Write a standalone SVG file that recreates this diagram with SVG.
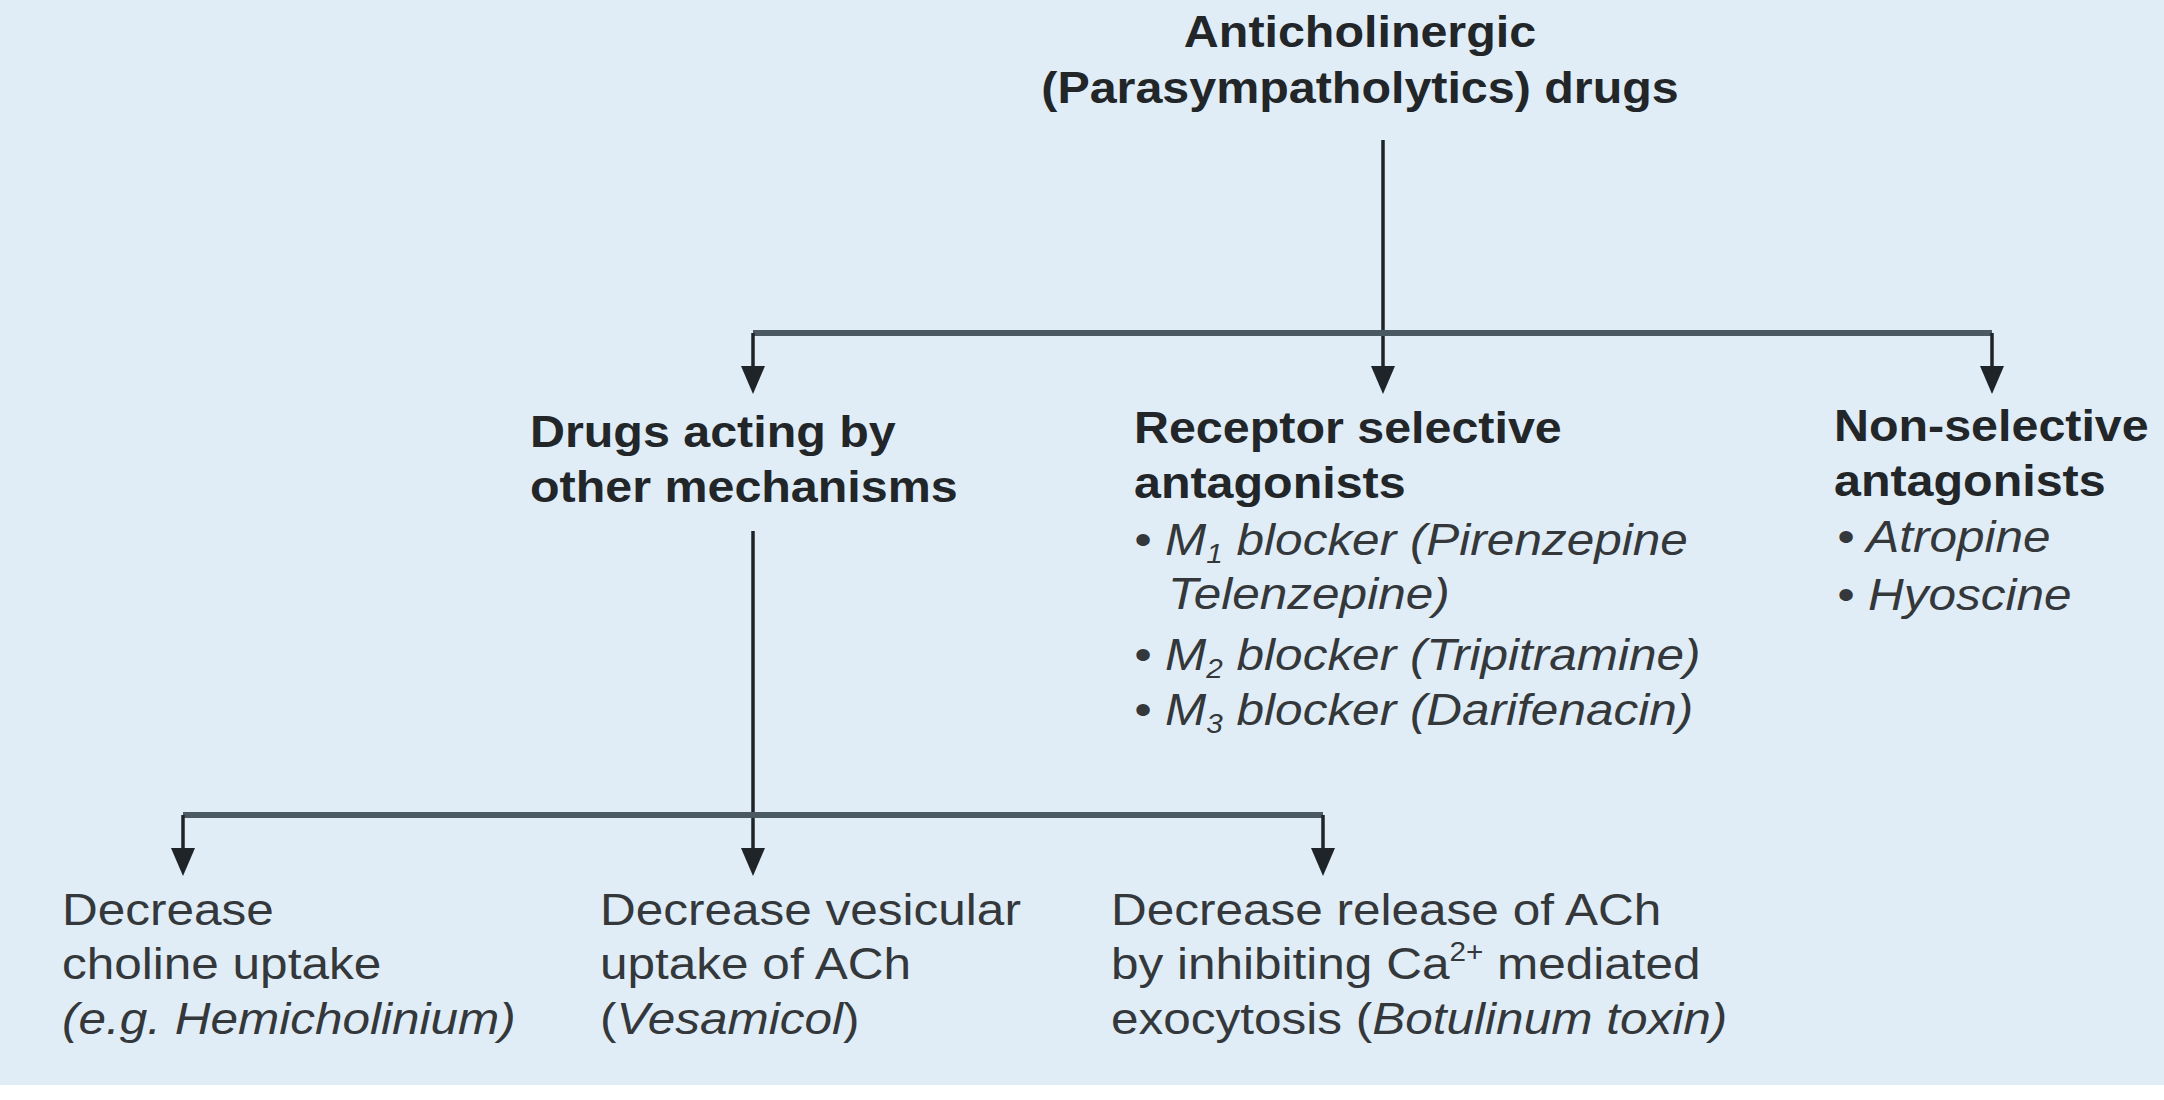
<svg xmlns="http://www.w3.org/2000/svg" width="2164" height="1100" viewBox="0 0 2164 1100">
<defs>
<style>
text{font-family:"Liberation Sans",Arial,sans-serif;fill:#2c3034}
.b{font-weight:bold;font-size:44px;fill:#222629}
.r{font-size:45px;fill:#34383b}
.i{font-style:italic}
.sub{font-size:27px}
.bar{stroke:#4b5a62;stroke-width:6;fill:none}
.stem{stroke:#1f2428;stroke-width:3.5;fill:none}
</style>
<marker id="ah" markerUnits="userSpaceOnUse" markerWidth="26" markerHeight="28" refX="12" refY="26" orient="auto-start-reverse" viewBox="0 0 24 28">
<path d="M0,0 L24,0 L12,26 Z" fill="#1f2428"/>
</marker>
</defs>
<rect x="0" y="0" width="2164" height="1100" fill="#ffffff"/>
<rect x="0" y="0" width="2164" height="1085" fill="#e0edf7"/>

<g id="connectors">
<line class="stem" x1="1383" y1="140" x2="1383" y2="368" />
<path class="bar" d="M753,333 H1992"/>
<line class="stem" x1="753" y1="333" x2="753" y2="368"/>
<line class="stem" x1="1992" y1="333" x2="1992" y2="368"/>
<path d="M741,366 H765 L753,394 Z" fill="#1f2428"/>
<path d="M1371,366 H1395 L1383,394 Z" fill="#1f2428"/>
<path d="M1980,366 H2004 L1992,394 Z" fill="#1f2428"/>
<line class="stem" x1="753" y1="531" x2="753" y2="850"/>
<path class="bar" d="M183,815 H1323"/>
<line class="stem" x1="183" y1="815" x2="183" y2="850"/>
<line class="stem" x1="1323" y1="815" x2="1323" y2="850"/>
<path d="M171,848 H195 L183,876 Z" fill="#1f2428"/>
<path d="M741,848 H765 L753,876 Z" fill="#1f2428"/>
<path d="M1311,848 H1335 L1323,876 Z" fill="#1f2428"/>
</g>

<g id="root">
<text class="b" text-anchor="middle" transform="translate(1360 47) scale(1.1 1)"><tspan x="0" y="0">Anticholinergic</tspan><tspan x="0" y="56">(Parasympatholytics) drugs</tspan></text>
</g>

<g id="other-mechanisms">
<text class="b" transform="translate(530 447) scale(1.1 1)"><tspan x="0" y="0">Drugs acting by</tspan><tspan x="0" y="55">other mechanisms</tspan></text>
</g>

<g id="receptor-selective">
<text class="b" transform="translate(1134 443) scale(1.1 1)"><tspan x="0" y="0">Receptor selective</tspan><tspan x="0" y="55">antagonists</tspan></text>
<text class="r i" transform="translate(1134 555) scale(1.1 1)"><tspan x="0" y="0">• M</tspan><tspan class="sub" dy="8">1</tspan><tspan dy="-8"> blocker (Pirenzepine</tspan><tspan x="31" y="54">Telenzepine)</tspan><tspan x="0" y="115">• M</tspan><tspan class="sub" dy="8">2</tspan><tspan dy="-8"> blocker (Tripitramine)</tspan><tspan x="0" y="170">• M</tspan><tspan class="sub" dy="8">3</tspan><tspan dy="-8"> blocker (Darifenacin)</tspan></text>
</g>

<g id="non-selective">
<text class="b" transform="translate(1834 441) scale(1.1 1)"><tspan x="0" y="0">Non-selective</tspan><tspan x="0" y="55">antagonists</tspan></text>
<text class="r i" transform="translate(1837 552) scale(1.1 1)"><tspan x="0" y="0">• Atropine</tspan><tspan x="0" y="58">• Hyoscine</tspan></text>
</g>

<g id="choline-uptake">
<text class="r" transform="translate(62 925) scale(1.1 1)"><tspan x="0" y="0">Decrease</tspan><tspan x="0" y="54">choline uptake</tspan><tspan x="0" y="109" class="i">(e.g. Hemicholinium)</tspan></text>
</g>

<g id="vesicular-uptake">
<text class="r" transform="translate(600 925) scale(1.1 1)"><tspan x="0" y="0">Decrease vesicular</tspan><tspan x="0" y="54">uptake of ACh</tspan><tspan x="0" y="109">(</tspan><tspan class="i">Vesamicol</tspan><tspan>)</tspan></text>
</g>

<g id="release">
<text class="r" transform="translate(1111 925) scale(1.1 1)"><tspan x="0" y="0">Decrease release of ACh</tspan><tspan x="0" y="54">by inhibiting Ca</tspan><tspan class="sub" dy="-18">2+</tspan><tspan dy="18"> mediated</tspan><tspan x="0" y="109">exocytosis (</tspan><tspan class="i">Botulinum toxin)</tspan></text>
</g>
</svg>
